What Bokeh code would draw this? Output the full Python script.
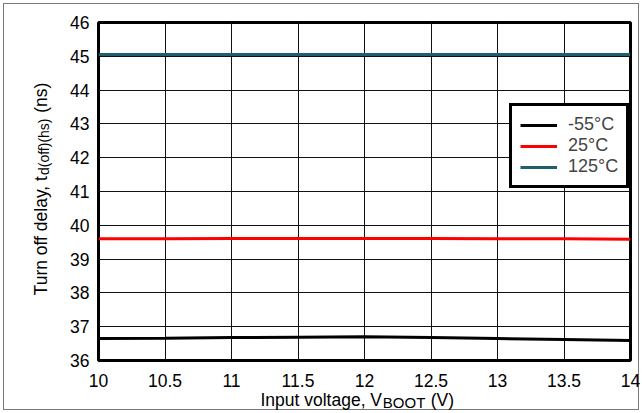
from bokeh.plotting import figure
from bokeh.models import Range1d, FixedTicker, Legend, LegendItem, LinearAxis
from bokeh.embed import file_html
from bokeh.resources import INLINE

# ---- data ----
vboot = [10, 10.5, 11, 11.5, 12, 12.5, 13, 13.5, 14]
t_m55 = [36.65, 36.66, 36.68, 36.69, 36.7, 36.68, 36.65, 36.62, 36.59]
t_25 = [39.6, 39.6, 39.61, 39.61, 39.61, 39.61, 39.6, 39.6, 39.59]
t_125 = [45.05, 45.05, 45.05, 45.05, 45.05, 45.05, 45.05, 45.05, 45.05]
series_names = ["-55\u00b0C", "25\u00b0C", "125\u00b0C"]
series_colors = ["#000000", "#ff0000", "#1f5f6e"]
x_ticks = [10, 10.5, 11, 11.5, 12, 12.5, 13, 13.5, 14]
x_tick_labels = ["10", "10.5", "11", "11.5", "12", "12.5", "13", "13.5", "14"]
y_ticks = [36, 37, 38, 39, 40, 41, 42, 43, 44, 45, 46]
y_tick_labels = [str(v) for v in y_ticks]

# axis titles; non-breaking spaces keep room for the subscripts
NB = "\u00a0"
x_title = "Input voltage, V" + NB * 9 + " (V)" + NB * 3
x_title_sub = NB * 19 + "BOOT"
y_title = NB + "Turn off delay, t" + NB * 12 + " (ns)"
y_title_sub = NB * 23 + "d(off)(hs)"

FONT = "Liberation Sans"
FS = "17.5px"

p = figure(width=642, height=413, output_backend="svg", toolbar_location=None,
           x_range=Range1d(10, 14), y_range=Range1d(36, 46),
           min_border_left=98, min_border_right=12, min_border_top=22, min_border_bottom=51)
p.styles = {"outline": "1px solid #7a7a7a", "outline-offset": "-4px"}
p.background_fill_color = "white"
p.border_fill_color = None
p.outline_line_color = "black"
p.outline_line_width = 3

for ax in (p.xaxis, p.yaxis):
    ax.axis_line_color = None
    ax.major_tick_line_color = None
    ax.minor_tick_line_color = None
    ax.major_tick_out = 0
    ax.major_tick_in = 0
    ax.major_label_text_font = FONT
    ax.major_label_text_font_size = FS
    ax.major_label_text_color = "black"
    ax.axis_label = None

p.xaxis.ticker = FixedTicker(ticks=x_ticks)
p.yaxis.ticker = FixedTicker(ticks=y_ticks)
p.xaxis.major_label_overrides = {t: l for t, l in zip(x_ticks, x_tick_labels)}
p.yaxis.major_label_overrides = {t: l for t, l in zip(y_ticks, y_tick_labels)}
p.xaxis.major_label_standoff = 13
p.yaxis.major_label_standoff = 9

p.xgrid.grid_line_color = "#111111"
p.ygrid.grid_line_color = "#111111"
p.xgrid.grid_line_width = 1
p.ygrid.grid_line_width = 1

renderers = []
for ys, col in zip([t_m55, t_25, t_125], series_colors):
    r = p.line(vboot, ys, line_color=col, line_width=3)
    renderers.append(r)

legend = Legend(items=[LegendItem(label=n, renderers=[r]) for n, r in zip(series_names, renderers)],
                location=(411, 172))
legend.border_line_color = "black"
legend.border_line_alpha = 1
legend.border_line_width = 3
legend.background_fill_color = "white"
legend.background_fill_alpha = 1
legend.label_text_font = FONT
legend.label_text_font_size = "18px"
legend.padding = 8
legend.spacing = -1
legend.margin = 0
legend.glyph_width = 37
legend.glyph_height = 18
legend.label_height = 18
legend.label_standoff = 11
p.add_layout(legend, "center")


# ---- axis titles drawn as labels of tick-less extra axes ----
def title_axis(side, text, size, standoff):
    c = 12 if side == "below" else 41
    ax = LinearAxis(ticker=FixedTicker(ticks=[c]),
                    major_label_overrides={c: ""}, major_label_text_font_size="0px",
                    major_label_standoff=0, major_tick_out=0, major_tick_in=0,
                    minor_tick_out=0, minor_tick_in=0,
                    axis_line_color=None, major_tick_line_color=None, minor_tick_line_color=None,
                    axis_label=text, axis_label_standoff=int(standoff),
                    axis_label_text_font=FONT, axis_label_text_font_size=size,
                    axis_label_text_font_style="normal", axis_label_text_color="black")
    p.add_layout(ax, side)


# x title: "Input voltage, V_BOOT (V)"
title_axis("below", x_title, FS, 0)
title_axis("below", x_title_sub, "15px", -19)

# y title: "Turn off delay, t_d(off)(hs) (ns)" (subscript axis first, title overlaps it)
title_axis("left", y_title_sub, "14px", 16)
title_axis("left", y_title, FS, -18)

open("out.html", "w").write(file_html(p, INLINE))
